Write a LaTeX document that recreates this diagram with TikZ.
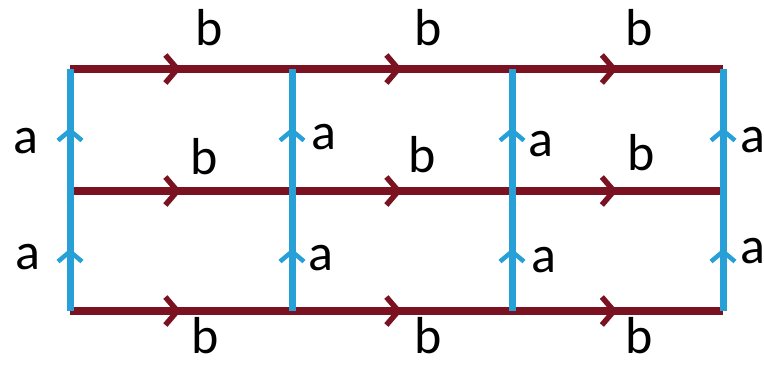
\documentclass[tikz,border=0pt]{standalone}
\usepackage{fontspec}
\setmainfont{Carlito}
\usetikzlibrary{arrows.meta,decorations.markings}
\definecolor{bred}{RGB}{122,18,34}
\definecolor{ablue}{RGB}{38,160,214}
\tikzset{
    bedge/.style={draw=bred, line width=7.5pt, postaction={decorate},
        decoration={markings,mark=at position 0.5 with {\arrow[bred]{Straight Barb[length=12pt,width=28pt,line width=5.5pt]}}}},
    aedge/.style={draw=ablue, line width=7pt, postaction={decorate},
        decoration={markings,mark=at position 0.52 with {\arrow[ablue]{Straight Barb[length=10pt,width=24pt,line width=4.5pt]}}}},
    lbl/.style={font=\fontsize{52}{60}\selectfont, inner sep=0pt}
}

\begin{document}
\begin{tikzpicture}[x=1pt,y=-1pt]
        \useasboundingbox (0,0) rectangle (764,368);
        % grid points
        \foreach \x [count=\i] in {70,292,512,723} {
            \foreach \y [count=\j] in {69,191,311} {
                \coordinate (v\i\j) at (\x,\y);
            }
        }
        % b edges
        \foreach \j in {1,2,3} {
            \draw[bedge] (v1\j) -- (v2\j); \draw[bedge] (v2\j) -- (v3\j); \draw[bedge] (v3\j) -- (v4\j);
        }
        % a edges
        \foreach \i in {1,2,3,4} {
            \draw[aedge] (v\i3) -- (v\i2); \draw[aedge] (v\i2) -- (v\i1);
        }
        % labels
        \node[lbl] (b11) at (209,28) {b}; \node[lbl] (b21) at (428,28) {b}; \node[lbl] (b31) at (639,28) {b};
        \node[lbl] (b12) at (204,157) {b}; \node[lbl] (b22) at (422,155) {b}; \node[lbl] (b32) at (641,153) {b};
        \node[lbl] (b13) at (205,336) {b}; \node[lbl] (b23) at (428,336) {b}; \node[lbl] (b33) at (639,336) {b};
        \node[lbl] (a11) at (26,141) {a}; \node[lbl] (a21) at (324,137) {a}; \node[lbl] (a31) at (541,144) {a}; \node[lbl] (a41) at (753,140) {a};
        \node[lbl] (a12) at (28,257) {a}; \node[lbl] (a22) at (321,258) {a}; \node[lbl] (a32) at (544,260) {a}; \node[lbl] (a42) at (753,251) {a};
    \end{tikzpicture}
\end{document}
